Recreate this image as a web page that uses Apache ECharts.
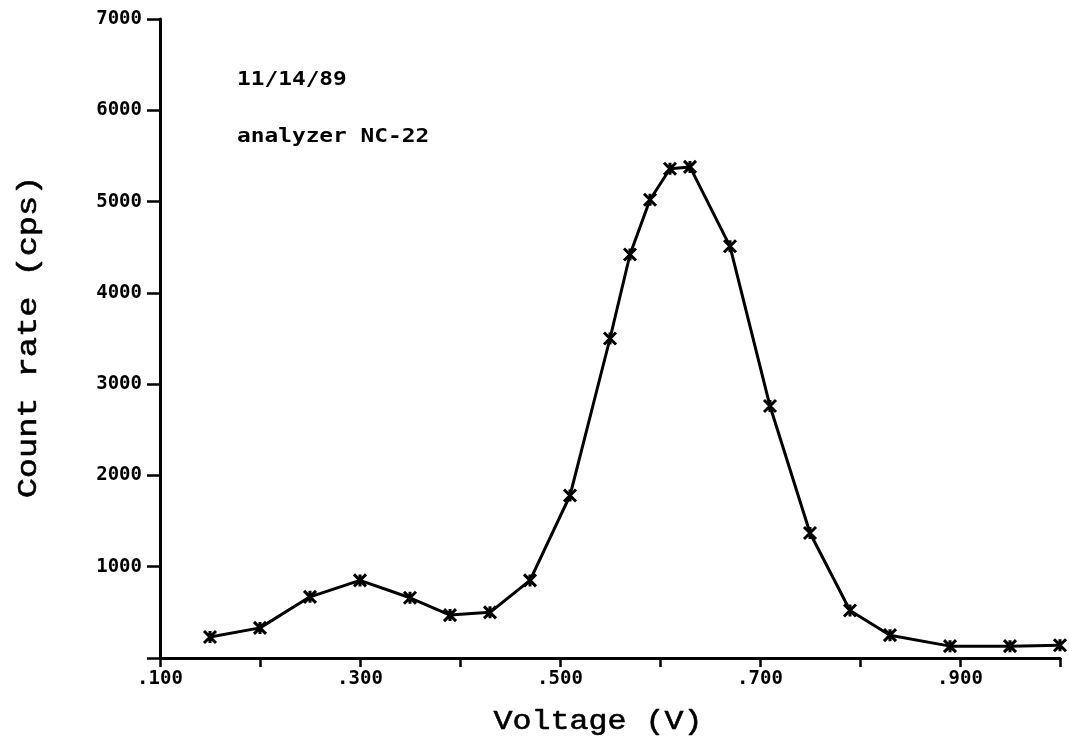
<!DOCTYPE html>
<html>
<head>
<meta charset="utf-8">
<script src="https://cdn.jsdelivr.net/npm/echarts@6/dist/echarts.min.js"></script>
<style>html,body{margin:0;padding:0;background:#fff}#c{width:1069px;height:744px}</style>
</head>
<body>
<div id="c"></div>
<script>
var voltage = [0.15, 0.20, 0.25, 0.30, 0.35, 0.39, 0.43, 0.47, 0.51, 0.55, 0.57, 0.59, 0.61, 0.63, 0.67, 0.71, 0.75, 0.79, 0.83, 0.89, 0.95, 1.00];
var countRate = [230, 330, 670, 850, 660, 470, 500, 850, 1780, 3500, 4420, 5020, 5360, 5380, 4510, 2760, 1370, 520, 250, 130, 130, 140];
var annotations = ['11/14/89', 'analyzer NC-22'];
var xTitle = 'Voltage (V)';
var yTitle = 'Count rate (cps)';

var pts = voltage.map(function (v, i) { return [v, countRate[i]]; });
var chart = echarts.init(document.getElementById('c'));
var tickFont = { fontFamily: 'DejaVu Sans Mono', fontWeight: 'bold', fontSize: 19, color: '#000' };
chart.setOption({
  animation: false,
  backgroundColor: '#fff',
  grid: { left: 160, right: 9, top: 19, bottom: 86 },
  xAxis: {
    type: 'value', min: 0.1, max: 1.0, interval: 0.1,
    axisLine: { lineStyle: { color: '#000', width: 3 } },
    axisTick: { inside: false, length: 9, lineStyle: { color: '#000', width: 2.5 } },
    splitLine: { show: false },
    axisLabel: Object.assign({
      margin: 12,
      formatter: function (v) {
        var m = Math.round(v * 1000);
        if (m % 200 !== 100) return '';
        return '.' + String(m).padStart(3, '0');
      }
    }, tickFont)
  },
  yAxis: {
    type: 'value', min: 0, max: 7000, interval: 1000,
    axisLine: { show: true, lineStyle: { color: '#000', width: 3 } },
    axisTick: { show: true, length: 13, lineStyle: { color: '#000', width: 2.5 } },
    splitLine: { show: false },
    axisLabel: Object.assign({
      margin: 18,
      formatter: function (v) { return v === 0 ? '' : String(v); }
    }, tickFont)
  },
  graphic: [
    { type: 'text', x: 237, y: 80, scaleX: 1.14, style: { text: annotations[0], font: 'bold 20px "DejaVu Sans Mono"', fill: '#000', verticalAlign: 'middle' } },
    { type: 'text', x: 237, y: 137, scaleX: 1.14, style: { text: annotations[1], font: 'bold 20px "DejaVu Sans Mono"', fill: '#000', verticalAlign: 'middle' } },
    { type: 'text', x: 598, y: 722, scaleX: 1.13, style: { text: xTitle, font: '28px "Liberation Mono"', fill: '#000', stroke: '#000', lineWidth: 0.6, align: 'center', verticalAlign: 'middle' } },
    { type: 'text', x: 29, y: 337, rotation: Math.PI / 2, scaleX: 1.2, style: { text: yTitle, font: '28px "Liberation Mono"', fill: '#000', stroke: '#000', lineWidth: 0.6, align: 'center', verticalAlign: 'middle' } }
  ],
  series: [{
    type: 'line',
    data: pts,
    lineStyle: { color: '#000', width: 3 },
    symbol: 'path://M0,0L10,10M10,0L0,10M5,0L5,10',
    symbolSize: 12,
    itemStyle: { color: 'rgba(0,0,0,0)', borderColor: '#000', borderWidth: 3 }
  }]
});
</script>
</body>
</html>
